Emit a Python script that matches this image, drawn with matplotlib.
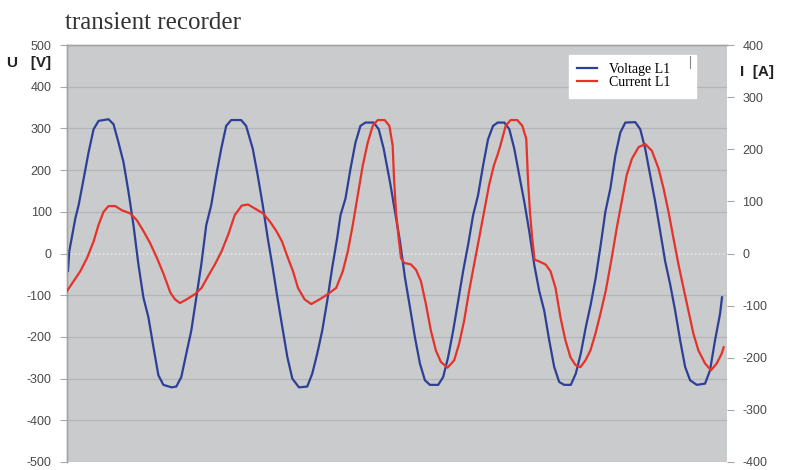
import numpy as np
import matplotlib
matplotlib.use("Agg")
import matplotlib.pyplot as plt
from matplotlib.lines import Line2D

# time axis in ms (one record of ~100 ms, 50 Hz)
t_volt = [0.15, 0.35, 1.25, 1.75, 2.5, 3.25, 4.0, 4.75, 6.25, 7.0, 7.75, 8.5, 9.25, 10.0,
          10.75, 11.5, 12.25, 13.0, 13.75, 14.5, 15.75, 16.45, 17.2, 17.95, 18.7, 19.45,
          20.2, 20.95, 21.7, 22.45, 23.2, 23.95, 24.7, 26.2, 26.95, 27.95, 28.7, 29.45,
          30.2, 30.95, 31.7, 32.4, 33.15, 33.9, 34.9, 36.15, 36.9, 37.65, 38.4, 39.15,
          39.9, 40.65, 41.15, 41.9, 42.65, 43.4, 44.15, 44.9, 46.15, 46.9, 47.65, 48.6,
          49.35, 50.1, 50.85, 51.6, 52.35, 53.1, 53.85, 54.6, 55.85, 56.6, 57.35, 58.1,
          58.85, 59.6, 60.35, 61.1, 61.85, 62.6, 63.35, 64.1, 64.8, 65.8, 66.55, 67.3,
          68.05, 68.8, 69.55, 70.3, 71.05, 71.8, 72.55, 73.3, 74.05, 74.8, 75.8, 76.55,
          77.3, 78.05, 78.8, 79.55, 80.3, 81.0, 81.75, 82.5, 83.25, 84.0, 85.5, 86.25,
          87.0, 87.75, 88.5, 89.25, 90.0, 90.75, 91.5, 92.25, 93.0, 93.75, 94.75, 96.0,
          96.75, 97.5, 98.25, 98.55]
voltage_l1 = [-42, 6, 84, 116, 179, 243, 298, 318, 322, 310, 266, 219, 148, 68,
              -27, -106, -153, -224, -292, -315, -321, -319, -296, -240, -185, -106,
              -27, 68, 116, 187, 251, 306, 320, 320, 306, 251, 187, 116,
              37, -34, -110, -177, -248, -300, -321, -319, -288, -240, -185, -114,
              -34, 37, 92, 132, 203, 266, 306, 314, 314, 298, 251, 171,
              100, 29, -58, -129, -201, -264, -304, -315, -315, -296, -248, -185,
              -114, -42, 21, 92, 140, 211, 274, 306, 314, 314, 298, 251,
              187, 124, 53, -27, -90, -137, -208, -272, -308, -315, -315, -288,
              -240, -177, -122, -58, 21, 100, 156, 235, 290, 314, 315, 298,
              251, 187, 124, 53, -19, -74, -137, -208, -272, -304, -315, -312,
              -280, -208, -145, -105]

t_curr = [0.0, 1.0, 2.0, 3.0, 4.0, 4.75, 5.5, 6.25, 7.25, 8.25, 9.5, 10.5, 11.55, 12.5,
          13.55, 14.55, 15.55, 16.25, 17.0, 18.0, 19.25, 20.25, 21.25, 22.25, 23.25,
          24.25, 25.25, 26.3, 27.25, 28.3, 29.5, 30.55, 31.55, 32.35, 33.25, 34.0,
          34.75, 35.75, 36.75, 38.0, 39.25, 40.5, 41.5, 42.25, 43.0, 43.75, 44.5, 45.25,
          46.0, 46.75, 47.8, 48.5, 49.0, 49.2, 49.5, 49.9, 50.25, 50.75, 51.75, 52.5,
          53.25, 54.0, 54.75, 55.5, 56.25, 57.25, 58.25, 59.0, 59.75, 60.5, 61.25, 62.0,
          62.75, 63.5, 64.25, 64.8, 65.2, 66.0, 66.75, 67.75, 68.5, 69.1, 69.35, 69.65,
          70.0, 70.35, 71.0, 72.0, 72.75, 73.5, 74.25, 75.0, 75.75, 76.5, 77.25, 78.0,
          78.75, 79.5, 80.25, 81.05, 81.95, 82.7, 83.45, 84.2, 85.0, 86.0, 87.0, 88.0,
          89.0, 89.75, 90.5, 91.25, 92.0, 92.75, 93.5, 94.25, 95.0, 96.0, 96.9, 97.75,
          98.5, 98.8]
current_l1 = [-72, -53, -34, -9, 23, 55, 80, 91, 91, 83, 77, 64, 42, 20,
              -9, -40, -75, -88, -95, -88, -78, -66, -43, -21, 4,
              36, 74, 92, 94, 86, 77, 61, 42, 23, -9, -34,
              -66, -88, -97, -88, -78, -66, -34, 4, 55, 112, 169, 213,
              245, 256, 256, 245, 207, 144, 80, 29, -9, -18, -21, -31,
              -53, -97, -148, -186, -208, -219, -205, -173, -129, -72, -21, 29,
              80, 131, 170, 190, 207, 245, 256, 256, 245, 220, 144, 80,
              29, -12, -15, -21, -34, -66, -123, -167, -199, -214, -218, -205,
              -186, -154, -116, -72, -9, 48, 99, 150, 182, 204, 210, 197,
              163, 125, 80, 29, -21, -66, -110, -154, -186, -211, -224, -211,
              -192, -180]

u_ticks = np.arange(-500, 501, 100)
i_ticks = np.arange(-400, 401, 100)

plt.rcParams["font.family"] = "Liberation Sans"
plt.rcParams["axes.unicode_minus"] = False

fig = plt.figure(figsize=(7.89, 4.70), dpi=100)
ax = fig.add_axes([67/789, 1-462/470, 660/789, 417/470])
ax.set_facecolor("#c9cbcd")

ax.plot(t_volt, voltage_l1, color="#2e3f96", linewidth=1.6, label="Voltage L1", zorder=3)
ax.set_xlim(0, 99.3)
ax.set_ylim(-500, 500)
ax.set_yticks(u_ticks)
ax.set_xticks([])
for v in u_ticks[1:-1]:
    if v != 0:
        ax.axhline(v, color="#b3b5b8", linewidth=0.9, zorder=1)
ax.axhline(0, color="#e2e2e2", linewidth=1.6, linestyle=(0, (0.6, 1.2)), zorder=1)

ax2 = ax.twinx()
ax2.plot(t_curr, current_l1, color="#e5322a", linewidth=1.6, label="Current L1", zorder=3)
ax2.set_ylim(-400, 400)
ax2.set_yticks(i_ticks)

for a in (ax, ax2):
    a.tick_params(axis="y", labelsize=9, labelcolor="#4a4a4a", color="#a8a8a8",
                  length=5, width=0.8, pad=6)
    for s in a.spines.values():
        s.set_color("#a4a4a4")
        s.set_linewidth(1.0)
ax2.spines["right"].set_visible(False)
ax2.spines["bottom"].set_visible(False)
ax.spines["right"].set_visible(False)
ax.spines["bottom"].set_visible(False)

fig.text(7/789, 1-63/470, "U   [V]", fontsize=11, fontweight="bold", color="#222222",
         va="center", ha="left")
fig.text(740/789, 1-72/470, "I  [A]", fontsize=11, fontweight="bold", color="#222222",
         va="center", ha="left")
fig.text(65/789, 1-23/470, "transient recorder", fontsize=18, color="#333333",
         family="Liberation Serif", va="center", ha="left")

handles = [Line2D([], [], color="#2e3f96", linewidth=1.6),
           Line2D([], [], color="#e5322a", linewidth=1.6)]
leg = ax2.legend(handles, ["Voltage L1     ", "Current L1     "], loc="upper left",
                 bbox_to_anchor=(569/789, 1-55/470), bbox_transform=fig.transFigure,
                 borderaxespad=0, frameon=True, fancybox=False, framealpha=1,
                 prop={"family": "Liberation Serif", "size": 10},
                 handlelength=1.4, handletextpad=0.9, labelspacing=0.0,
                 borderpad=0.6)
leg.get_frame().set_edgecolor("white")
leg.get_frame().set_facecolor("white")
fig.add_artist(Line2D([690/789, 690/789], [1-56/470, 1-68/470], color="#888888",
                      linewidth=0.8))

fig.savefig("out.png", dpi=100)
